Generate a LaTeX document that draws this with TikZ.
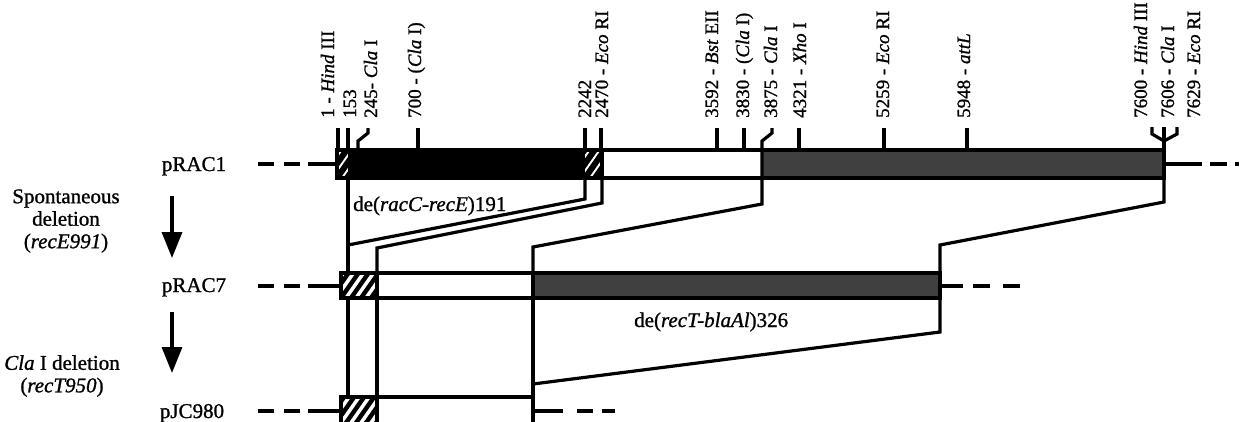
\documentclass[tikz,border=0pt]{standalone}
\usepackage{fontspec}
\setmainfont{Liberation Serif}[FakeBold=1.1]
\usetikzlibrary{arrows.meta}
\newcommand\ticksize{\fontsize{19}{20}\selectfont}
\newcommand\mainsize{\fontsize{21}{22.5}\selectfont}
\begin{document}
\begin{tikzpicture}[x=1pt,y=-1pt,
  ln/.style={line width=3.2pt},
  hatch/.style={fill=white, path picture={
     \foreach \k in {-6,...,6}
       \draw[line width=#1] ([xshift=\k*10pt]path picture bounding box.south west) -- ++(55:70pt);}},
  hatch/.default=4.4pt,
  grayfill/.style={fill=black!75},
  tlab/.style={rotate=90, anchor=base west, inner sep=0pt, font=\ticksize},
  mlab/.style={inner sep=0pt, font=\mainsize, align=center},
  bigarrow/.style={line width=3.4pt, -{Triangle[width=20pt,length=26pt]}}
]
\useasboundingbox (0,0) rectangle (1239,421);
\clip (0,0) rectangle (1239,421);

% ---------- pRAC1 ----------
\path[hatch=6pt] (337,150) rectangle (348,178);
\fill (348,150) rectangle (585,178);
\path[hatch=6pt] (585,150) rectangle (602,178);
\fill[grayfill] (762,150) rectangle (1164,178);
\draw[ln] (337,150) rectangle (1164,178);
\draw[ln] (602,150) -- (602,178);

% ticks pRAC1
\draw[ln] (338,128) -- (338,150);
\draw[ln] (348,128) -- (348,150);
\draw[ln] (368,128) -- (368,133) -- (358,141) -- (358,150);
\draw[ln] (418,128) -- (418,150);
\draw[ln] (585,128) -- (585,150);
\draw[ln] (601,128) -- (601,150);
\draw[ln] (717,128) -- (717,150);
\draw[ln] (744,128) -- (744,150);
\draw[ln] (772,128) -- (772,133) -- (762,141) -- (762,150);
\draw[ln] (799,128) -- (799,150);
\draw[ln] (884,128) -- (884,150);
\draw[ln] (967,128) -- (967,150);
\draw[ln] (1152,127) -- (1152,134) -- (1164,141) -- (1177,134) -- (1177,127);
\draw[ln] (1164,127) -- (1164,150);

% tick labels
\node[tlab] (l1)    at (334,118) {1 - \textit{Hind} III};
\node[tlab] (l153)  at (356,118) {153};
\node[tlab] (l245)  at (377,118) {245- \textit{Cla} I};
\node[tlab] (l700)  at (421,118) {700 - (\textit{Cla} I)};
\node[tlab] (l2242) at (591,118) {2242};
\node[tlab] (l2470) at (608,118) {2470 - \textit{Eco} RI};
\node[tlab] (l3592) at (718,118) {3592 - \textit{Bst} EII};
\node[tlab] (l3830) at (749,118) {3830 - (\textit{Cla} I)};
\node[tlab] (l3875) at (777,118) {3875 - \textit{Cla} I};
\node[tlab] (l4321) at (806,118) {4321 - \textit{Xho} I};
\node[tlab] (l5259) at (889,118) {5259 - \textit{Eco} RI};
\node[tlab] (l5948) at (970,118) {5948 - \textit{attL}};
\node[tlab] (l7600) at (1147,118) {7600 - \textit{Hind} III};
\node[tlab] (l7606) at (1174,118) {7606 - \textit{Cla} I};
\node[tlab] (l7629) at (1200,118) {7629 - \textit{Eco} RI};

% side lines pRAC1
\draw[ln] (258,164) -- (274,164) (284,164) -- (300,164) (308,164) -- (337,164);
\draw[ln] (1164,164) -- (1202,164) (1210,164) -- (1227,164) (1235,164) -- (1245,164);

% ---------- pRAC7 ----------
\path[hatch] (341,273) rectangle (377,298);
\fill[grayfill] (533,273) rectangle (940,298);
\draw[ln] (341,273) rectangle (940,298);
\draw[ln] (377,273) -- (377,298);
\draw[ln] (533,273) -- (533,298);
\draw[ln] (258,286) -- (274,286) (284,286) -- (300,286) (308,286) -- (341,286);
\draw[ln] (940,286) -- (963,286) (973,286) -- (990,286) (1003,286) -- (1020,286);

% ---------- pJC980 ----------
\path[hatch] (341,397) rectangle (377,430);
\draw[ln] (341,430) -- (341,397) -- (533,397) -- (533,430);
\draw[ln] (341,430) -- (533,430);
\draw[ln] (377,397) -- (377,430);
\draw[ln] (258,411) -- (274,411) (284,411) -- (300,411) (308,411) -- (341,411);
\draw[ln] (533,411) -- (563,411) (577,411) -- (593,411) (602,411) -- (615,411);

% ---------- connectors pRAC1 -> pRAC7 ----------
\draw[ln] (348,178) -- (348,273);
\draw[ln] (585,178) -- (585,199) -- (348,245);
\draw[ln] (602,178) -- (602,203) -- (377,248) -- (377,273);
\draw[ln] (762,150) -- (762,204) -- (533,247) -- (533,273);
\draw[ln] (1164,150) -- (1164,202) -- (940,245) -- (940,273);

% ---------- connectors pRAC7 -> pJC980 ----------
\draw[ln] (348,298) -- (348,397);
\draw[ln] (377,298) -- (377,397);
\draw[ln] (533,298) -- (533,397);
\draw[ln] (940,298) -- (940,332) -- (533,384);

% ---------- labels ----------
\node[mlab, anchor=base] (pRAC1) at (194,171) {pRAC1};
\node[mlab, anchor=base] (pRAC7) at (194,292) {pRAC7};
\node[mlab, anchor=base] (pJC980) at (192,418) {pJC980};
\node[mlab] (spon) at (66,221) {Spontaneous\\deletion\\(\textit{recE991})};
\node[mlab] (clad) at (62,376) {\textit{Cla} I deletion\\(\textit{recT950})};
\node[mlab, anchor=base west] (del1) at (353,211) {de(\textit{racC-recE})191};
\node[mlab, anchor=base west] (del2) at (634,327) {de(\textit{recT-blaAl})326};

\coordinate (a1s) at (172,196);
\coordinate (a1e) at (172,258);
\coordinate (a2s) at (172,312);
\coordinate (a2e) at (172,373);
\draw[bigarrow] (a1s) -- (a1e);
\draw[bigarrow] (a2s) -- (a2e);
\end{tikzpicture}
\end{document}
